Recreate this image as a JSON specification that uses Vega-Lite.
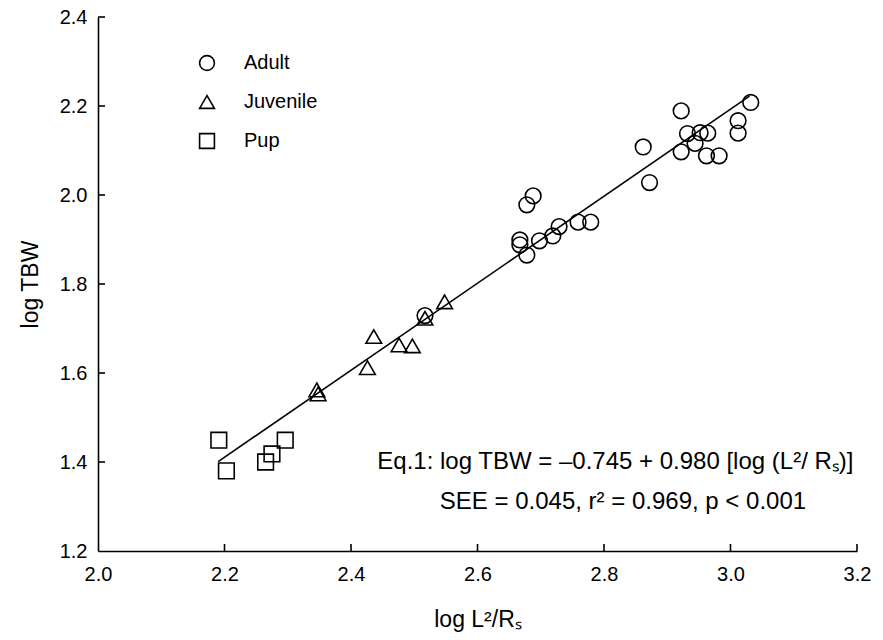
{
  "$schema": "https://vega.github.io/schema/vega-lite/v6.json",
  "width": 759,
  "height": 534,
  "autosize": "none",
  "padding": {"left": 98, "top": 17, "right": 26, "bottom": 89},
  "background": "white",
  "config": {
    "view": {"stroke": null},
    "font": "Liberation Sans",
    "axis": {
      "domainColor": "black",
      "domainWidth": 1.6,
      "ticks": false,
      "grid": false,
      "labelFont": "Liberation Sans",
      "labelFontSize": 20,
      "labelColor": "black",
      "labelOverlap": false,
      "labelFlush": false,
      "titleFont": "Liberation Sans",
      "titleFontSize": 23,
      "titleFontWeight": "normal",
      "titleColor": "black"
    }
  },
  "layer": [
    {
      "data": {
        "values": [
          {"group": "Adult", "x": 2.517, "y": 1.729},
          {"group": "Adult", "x": 2.667, "y": 1.899},
          {"group": "Adult", "x": 2.667, "y": 1.888},
          {"group": "Adult", "x": 2.678, "y": 1.865},
          {"group": "Adult", "x": 2.678, "y": 1.978},
          {"group": "Adult", "x": 2.688, "y": 1.998},
          {"group": "Adult", "x": 2.698, "y": 1.897},
          {"group": "Adult", "x": 2.719, "y": 1.908},
          {"group": "Adult", "x": 2.729, "y": 1.929},
          {"group": "Adult", "x": 2.759, "y": 1.939},
          {"group": "Adult", "x": 2.779, "y": 1.939},
          {"group": "Adult", "x": 2.862, "y": 2.108},
          {"group": "Adult", "x": 2.872, "y": 2.028},
          {"group": "Adult", "x": 2.922, "y": 2.097},
          {"group": "Adult", "x": 2.922, "y": 2.189},
          {"group": "Adult", "x": 2.932, "y": 2.138},
          {"group": "Adult", "x": 2.944, "y": 2.116},
          {"group": "Adult", "x": 2.952, "y": 2.140},
          {"group": "Adult", "x": 2.964, "y": 2.139},
          {"group": "Adult", "x": 2.962, "y": 2.088},
          {"group": "Adult", "x": 2.982, "y": 2.088},
          {"group": "Adult", "x": 3.012, "y": 2.139},
          {"group": "Adult", "x": 3.012, "y": 2.167},
          {"group": "Adult", "x": 3.032, "y": 2.208},
          {"group": "Juvenile", "x": 2.346, "y": 1.562},
          {"group": "Juvenile", "x": 2.348, "y": 1.553},
          {"group": "Juvenile", "x": 2.426, "y": 1.612},
          {"group": "Juvenile", "x": 2.436, "y": 1.682},
          {"group": "Juvenile", "x": 2.476, "y": 1.663},
          {"group": "Juvenile", "x": 2.497, "y": 1.661},
          {"group": "Juvenile", "x": 2.517, "y": 1.723},
          {"group": "Juvenile", "x": 2.548, "y": 1.760},
          {"group": "Pup", "x": 2.191, "y": 1.449},
          {"group": "Pup", "x": 2.203, "y": 1.380},
          {"group": "Pup", "x": 2.265, "y": 1.400},
          {"group": "Pup", "x": 2.275, "y": 1.418},
          {"group": "Pup", "x": 2.296, "y": 1.449}
        ]
      },
      "mark": {"type": "point", "filled": false, "stroke": "black", "strokeWidth": 1.6, "size": 245, "opacity": 1},
      "encoding": {
        "x": {
          "field": "x", "type": "quantitative",
          "scale": {"domain": [2.0, 3.2], "nice": false, "zero": false},
          "axis": {"values": [2.0, 2.2, 2.4, 2.6, 2.8, 3.0, 3.2], "format": ".1f", "title": "log L²/Rₛ", "labelPadding": 13, "titlePadding": 24}
        },
        "y": {
          "field": "y", "type": "quantitative",
          "scale": {"domain": [1.2, 2.4], "nice": false, "zero": false},
          "axis": {"values": [1.2, 1.4, 1.6, 1.8, 2.0, 2.2, 2.4], "format": ".1f", "title": "log TBW", "labelPadding": 11, "titlePadding": 17}
        },
        "shape": {
          "field": "group", "type": "nominal",
          "scale": {"domain": ["Adult", "Juvenile", "Pup"], "range": ["circle", "triangle-up", "square"]},
          "legend": {
            "title": null,
            "orient": "none",
            "legendX": 99,
            "legendY": 36,
            "padding": 0,
            "labelFont": "Liberation Sans",
            "labelFontSize": 20,
            "labelColor": "black",
            "labelOffset": 27,
            "symbolSize": 220,
            "symbolFillColor": "transparent",
            "symbolStrokeColor": "black",
            "symbolStrokeWidth": 1.6,
            "rowPadding": 18
          }
        }
      }
    },
    {
      "data": {"values": [{"x": 2.2}, {"x": 2.4}, {"x": 2.6}, {"x": 2.8}, {"x": 3.0}, {"x": 3.2}]},
      "mark": {"type": "tick", "orient": "vertical", "size": 7, "thickness": 1.6, "yOffset": -3.5, "color": "black", "opacity": 1},
      "encoding": {
        "x": {"field": "x", "type": "quantitative"},
        "y": {"datum": 1.2}
      }
    },
    {
      "data": {"values": [{"y": 1.4}, {"y": 1.6}, {"y": 1.8}, {"y": 2.0}, {"y": 2.2}, {"y": 2.4}]},
      "mark": {"type": "tick", "orient": "horizontal", "size": 7, "thickness": 1.6, "xOffset": 3.5, "color": "black", "opacity": 1},
      "encoding": {
        "y": {"field": "y", "type": "quantitative"},
        "x": {"datum": 2.0}
      }
    },
    {
      "data": {"values": [{"x": 2.19, "y": 1.401}, {"x": 3.03, "y": 2.222}]},
      "mark": {"type": "line", "color": "black", "strokeWidth": 1.6},
      "encoding": {
        "x": {"field": "x", "type": "quantitative"},
        "y": {"field": "y", "type": "quantitative"}
      }
    },
    {
      "data": {
        "values": [
          {"x": 2.818, "y": 1.4, "t": "Eq.1: log TBW = –0.745 + 0.980 [log (L²/ Rₛ)]"},
          {"x": 2.83, "y": 1.31, "t": "SEE = 0.045, r² = 0.969, p < 0.001"}
        ]
      },
      "mark": {"type": "text", "fontSize": 24, "align": "center", "baseline": "middle", "font": "Liberation Sans", "color": "black"},
      "encoding": {
        "x": {"field": "x", "type": "quantitative"},
        "y": {"field": "y", "type": "quantitative"},
        "text": {"field": "t"}
      }
    }
  ]
}
